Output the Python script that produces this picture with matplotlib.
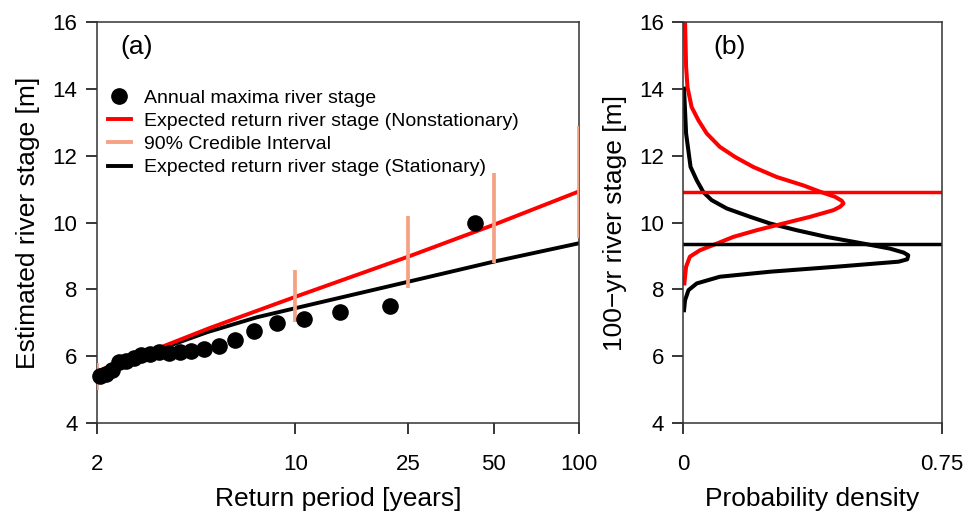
import matplotlib
matplotlib.use("Agg")
from matplotlib import pyplot as plt
from matplotlib.lines import Line2D

plt.rcParams['font.family'] = ['Liberation Sans', 'DejaVu Sans']

# annual maxima, plotted at return period 43/m (m = rank)
obs_period = [43.0, 21.5, 14.33, 10.75, 8.6, 7.17, 6.14, 5.375, 4.78, 4.3, 3.91,
              3.58, 3.31, 3.07, 2.87, 2.69, 2.53, 2.39, 2.26, 2.15, 2.05]
obs_stage = [10.0, 7.5, 7.33, 7.11, 7.0, 6.76, 6.5, 6.31, 6.22, 6.16, 6.14,
             6.1, 6.12, 6.06, 6.05, 5.95, 5.87, 5.83, 5.6, 5.48, 5.4]

# expected return levels
ns_period = [2, 3.42, 5, 10, 25, 50, 100]
ns_stage = [5.55, 6.3, 6.85, 7.78, 8.98, 9.93, 10.93]
st_period = [2, 2.6, 3.42, 4.88, 7.33, 10, 25, 50, 100]
st_stage = [5.45, 5.85, 6.25, 6.72, 7.17, 7.44, 8.23, 8.83, 9.38]

# 90% credible intervals (nonstationary)
ci_period = [2, 10, 25, 50, 100]
ci_low = [5.0, 7.03, 8.03, 8.78, 9.53]
ci_high = [5.8, 8.58, 10.18, 11.47, 12.87]

xticks_a = [2, 10, 25, 50, 100]

# density of the 100-yr river stage
st_dens_y = [14.0, 12.66, 11.66, 11.26, 10.91, 10.67, 10.42, 10.17, 9.97, 9.77, 9.57,
             9.37, 9.22, 9.1, 9.02, 8.9, 8.83, 8.68, 8.53, 8.38, 8.18, 7.98, 7.68, 7.38]
st_dens_x = [0.002, 0.008, 0.021, 0.039, 0.058, 0.082, 0.126, 0.194, 0.252, 0.329, 0.416,
             0.523, 0.60, 0.64, 0.653, 0.65, 0.625, 0.445, 0.252, 0.106, 0.039, 0.015, 0.005, 0.002]
ns_dens_y = [16.0, 14.65, 14.05, 13.45, 13.05, 12.66, 12.26, 11.96, 11.66, 11.36, 11.11,
             10.92, 10.77, 10.65, 10.57, 10.47, 10.37, 10.17, 9.97, 9.77, 9.57, 9.37, 9.17,
             8.98, 8.68, 8.18]
ns_dens_x = [0.005, 0.008, 0.012, 0.024, 0.044, 0.068, 0.106, 0.150, 0.203, 0.271, 0.348,
             0.397, 0.44, 0.46, 0.465, 0.455, 0.436, 0.368, 0.29, 0.213, 0.145, 0.097, 0.048,
             0.019, 0.008, 0.003]
ns_100 = 10.9
st_100 = 9.35

RED = '#ff0000'
CI = '#f4a284'

fig = plt.figure(figsize=(9.69, 5.12), dpi=100)
ax1 = fig.add_axes([0.1001, 0.1732, 0.4974, 0.7844])
ax2 = fig.add_axes([0.7052, 0.1732, 0.2666, 0.7844])

# panel (a)
ax1.set_xscale('log')
ax1.plot(st_period, st_stage, color='black', lw=2.8, zorder=2)
ax1.plot(ns_period, ns_stage, color=RED, lw=2.8, zorder=2)
ax1.vlines(ci_period, ci_low, ci_high, color=CI, lw=2.7, zorder=3)
ax1.scatter(obs_period, obs_stage, s=120, color='black', zorder=4, clip_on=False)
ax1.set_xlim(2, 100)
ax1.set_ylim(4, 16)
ax1.set_xticks(xticks_a)
ax1.set_xticklabels([str(t) for t in xticks_a])
ax1.xaxis.set_minor_locator(matplotlib.ticker.NullLocator())
ax1.set_yticks(range(4, 17, 2))
ax1.set_xlabel('Return period [years]', fontsize=19, labelpad=9)
ax1.set_ylabel('Estimated river stage [m]', fontsize=19, labelpad=9)
ax1.text(0.048, 0.937, '(a)', transform=ax1.transAxes, fontsize=19, va='center')

handles = [Line2D([], [], marker='o', ls='none', color='black', markersize=11),
           Line2D([], [], color=RED, lw=2.8),
           Line2D([], [], color=CI, lw=2.8),
           Line2D([], [], color='black', lw=2.8)]
labels = ['Annual maxima river stage',
          'Expected return river stage (Nonstationary)',
          '90% Credible Interval',
          'Expected return river stage (Stationary)']
ax1.legend(handles, labels, loc='upper left', bbox_to_anchor=(-0.005, 0.865), frameon=False,
           fontsize=14, handlelength=1.15, handletextpad=0.7, labelspacing=0.28,
           borderaxespad=0.3)

# panel (b)
ax2.plot(st_dens_x, st_dens_y, color='black', lw=2.9)
ax2.plot(ns_dens_x, ns_dens_y, color=RED, lw=2.9)
ax2.axhline(ns_100, color=RED, lw=2.5)
ax2.axhline(st_100, color='black', lw=2.5)
ax2.set_xlim(0, 0.75)
ax2.set_ylim(4, 16)
ax2.set_xticks([0, 0.75])
ax2.set_xticklabels(['0', '0.75'])
ax2.set_yticks(range(4, 17, 2))
ax2.set_xlabel('Probability density', fontsize=19, labelpad=9)
ax2.set_ylabel('100\u2212yr river stage [m]', fontsize=19, labelpad=9)
ax2.text(0.115, 0.937, '(b)', transform=ax2.transAxes, fontsize=19, va='center')

for ax in (ax1, ax2):
    ax.tick_params(direction='out', length=8, width=1.1, labelsize=16, pad=6)
    ax.tick_params(axis='x', pad=14)
    for sp in ax.spines.values():
        sp.set_linewidth(1.1)
        sp.set_color('#333333')

fig.savefig('out.png', dpi=100)
